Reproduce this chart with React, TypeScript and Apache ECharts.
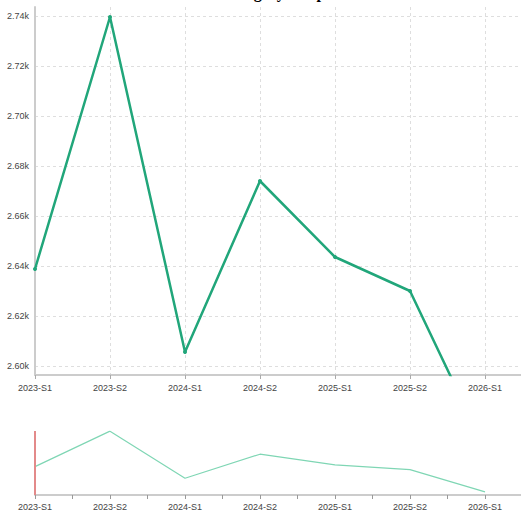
import React, { useEffect, useRef } from "react";
import * as echarts from "echarts";

const categories = ["2023-S1", "2023-S2", "2024-S1", "2024-S2", "2025-S1", "2025-S2", "2026-S1"];
const values = [2638.8, 2739.6, 2605.6, 2674, 2643.6, 2630, 2567];
const titleText = "Category Graph";

const catLabel = (v: number) => {
  if (Math.abs(v - Math.round(v)) > 1e-6) return "";
  return categories[Math.round(v)] ?? "";
};

export default function App() {
  const ref = useRef<HTMLDivElement>(null);
  useEffect(() => {
    if (!ref.current) return;
    const chart = echarts.init(ref.current, undefined, { renderer: "svg" });
    const pts = values.map((v, i) => [i, v]);
    const axisColor = "#cccccc";
    const gridLine = { color: "#dedede", type: [3, 3] as any };
    const labelStyle = { color: "#444", fontSize: 9, fontFamily: "Liberation Sans, Arial, sans-serif" };
    chart.setOption({
      animation: false,
      backgroundColor: "#fff",
      graphic: [
        {
          type: "text",
          x: 278,
          y: 0,
          style: {
            text: titleText,
            fill: "#000",
            font: "bold 16px serif",
            textAlign: "center",
            textVerticalAlign: "bottom",
          },
        },
      ],
      grid: [
        { left: 35, right: 0, top: 7, height: 368 },
        { left: 35, right: 0, top: 431, height: 64 },
      ],
      xAxis: [
        {
          type: "value",
          gridIndex: 0,
          min: 0,
          max: 6.48,
          interval: 1,
          axisLine: { show: true, onZero: false, lineStyle: { color: axisColor, width: 2 } },
          axisTick: { show: true, length: 4, lineStyle: { color: "#aaa" } },
          axisLabel: { ...labelStyle, margin: 8, formatter: catLabel, showMaxLabel: false },
          splitLine: { show: true, showMaxLine: false, showMinLine: false, lineStyle: gridLine },
        },
        {
          type: "value",
          gridIndex: 1,
          min: 0,
          max: 6.48,
          interval: 0.5,
          axisLine: { show: true, onZero: false, lineStyle: { color: axisColor, width: 2 } },
          axisTick: { show: true, length: 4, lineStyle: { color: "#999" } },
          axisLabel: { ...labelStyle, margin: 7, formatter: catLabel, showMaxLabel: false },
          splitLine: { show: false },
        },
      ],
      yAxis: [
        {
          type: "value",
          gridIndex: 0,
          min: 2596.4,
          max: 2743.6,
          splitNumber: 7,
          axisLine: { show: true, lineStyle: { color: axisColor, width: 2 } },
          axisTick: { show: false },
          axisLabel: {
            ...labelStyle,
            margin: 6,
            showMinLabel: false,
            showMaxLabel: false,
            formatter: (v: number) => (v / 1000).toFixed(2) + "k",
          },
          splitLine: { show: true, showMaxLine: false, showMinLine: false, lineStyle: gridLine },
        },
        {
          type: "value",
          gridIndex: 1,
          min: 2558,
          max: 2740,
          show: false,
          splitLine: { show: false },
        },
      ],
      series: [
        {
          type: "line",
          xAxisIndex: 0,
          yAxisIndex: 0,
          data: pts,
          clip: true,
          symbol: "circle",
          symbolSize: 4,
          lineStyle: { color: "#21a67a", width: 2.5 },
          itemStyle: { color: "#21a67a" },
        },
        {
          type: "line",
          xAxisIndex: 1,
          yAxisIndex: 1,
          data: pts,
          symbol: "none",
          lineStyle: { color: "#7fd6b4", width: 1.2 },
          markLine: {
            silent: true,
            symbol: "none",
            label: { show: false },
            lineStyle: { color: "#e38a8a", width: 2, type: "solid" },
            data: [{ xAxis: 0 }],
          },
        },
      ],
    });
    return () => chart.dispose();
  }, []);
  return <div ref={ref} style={{ position: "absolute", left: 0, top: 0, width: 521, height: 512 }} />;
}
